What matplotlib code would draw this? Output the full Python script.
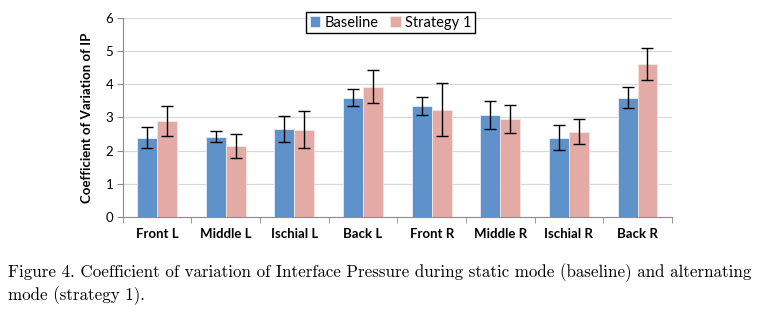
import numpy as np
import matplotlib.pyplot as plt

# Datos
categories = ['Front L', 'Middle L', 'Ischial L', 'Back L',
              'Front R', 'Middle R', 'Ischial R', 'Back R']
baseline = [2.39, 2.42, 2.65, 3.60, 3.35, 3.07, 2.39, 3.59]
baseline_err = [0.32, 0.17, 0.39, 0.27, 0.28, 0.42, 0.37, 0.32]
strategy1 = [2.90, 2.14, 2.63, 3.93, 3.23, 2.95, 2.57, 4.61]
strategy1_err = [0.45, 0.37, 0.55, 0.50, 0.80, 0.42, 0.37, 0.48]

caption = ("Figure 4. Coefficient of variation of Interface Pressure during static mode (baseline) and alternating\n"
           "mode (strategy 1).")


def plot_cv():
    fig = plt.figure(figsize=(7.63, 3.14), dpi=100)
    ax = fig.add_axes([0.161, 0.309, 0.7195, 0.634])

    x = np.arange(len(categories))
    w = 0.29
    ax.bar(x - w / 2, baseline, w, color='#5f92cb', edgecolor='#e8eef6', linewidth=0.6,
           label='Baseline', zorder=2)
    ax.bar(x + w / 2, strategy1, w, color='#e4aaa6', edgecolor='#f6e6e4', linewidth=0.6,
           label='Strategy 1', zorder=2)
    ax.errorbar(x - w / 2, baseline, yerr=baseline_err, fmt='none', ecolor='black',
                elinewidth=1, capsize=4, capthick=1, zorder=3)
    ax.errorbar(x + w / 2, strategy1, yerr=strategy1_err, fmt='none', ecolor='black',
                elinewidth=1, capsize=4, capthick=1, zorder=3)

    ax.set_xlim(-0.5, len(categories) - 0.5)
    ax.set_ylim(0, 6)
    ax.set_yticks(range(0, 7))
    ax.yaxis.grid(True, color='#d9d9d9', linewidth=0.9, zorder=0)
    ax.set_axisbelow(True)

    ax.set_xticks(x)
    ax.set_xticklabels(categories, fontsize=9.5, fontweight='bold', family='Lato')
    ax.tick_params(axis='x', length=0, pad=8)
    ax.set_xticks(np.arange(-0.5, len(categories)), minor=True)
    ax.tick_params(axis='x', which='minor', length=4, color='#8c8c8c', direction='out')
    ax.tick_params(axis='y', length=4, color='#8c8c8c', labelsize=9.5, pad=3)
    for lbl in ax.get_yticklabels():
        lbl.set_family('Lato')

    for s in ['top', 'right']:
        ax.spines[s].set_visible(False)
    ax.spines['left'].set_color('#8c8c8c')
    ax.spines['bottom'].set_color('#8c8c8c')

    ax.set_ylabel('Coefficient of Variation of IP', fontsize=9.5, fontweight='bold',
                  family='Lato', labelpad=9)

    leg = ax.legend(loc='upper center', bbox_to_anchor=(0.488, 1.03), ncol=2,
                    fancybox=False, framealpha=1, edgecolor='black',
                    prop={'family': 'Lato', 'size': 10.5}, borderaxespad=0,
                    handlelength=0.7, handleheight=0.7, handletextpad=0.3,
                    columnspacing=0.8, borderpad=0.25)
    leg.get_frame().set_linewidth(1)

    fig.text(0.010, 0.03, caption, fontsize=12.2, family='cmr10', ha='left',
             va='bottom', linespacing=1.25)

    fig.savefig('out.png', dpi=100)


if __name__ == '__main__':
    plot_cv()
